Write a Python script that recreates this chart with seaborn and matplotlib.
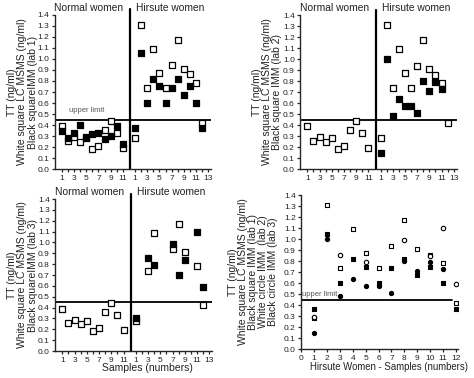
import numpy as np
import pandas as pd
import matplotlib
matplotlib.use("Agg")
import matplotlib.pyplot as plt
import seaborn as sns

# ---------------- data ----------------
normal_samples = list(range(1, 12))
normal_lcmsms = [0.39, 0.26, 0.29, 0.25, 0.28, 0.18, 0.21, 0.36, 0.44, 0.33, 0.19]
normal_lab1 = [0.35, 0.28, 0.33, 0.40, 0.29, 0.32, 0.33, 0.27, 0.30, 0.39, 0.23]

hirsute_samples = list(range(1, 13))
hirsute_lcmsms = [0.28, 1.31, 0.74, 1.09, 0.87, 0.74, 0.94, 1.17, 0.91, 0.86, 0.78, 0.42]
hirsute_lab1 = [0.37, 1.05, 0.60, 0.82, 0.75, 0.60, 0.74, 0.82, 0.67, 0.75, 0.60, 0.37]
hirsute_lab2_samples = list(range(1, 12))
hirsute_lab2 = [0.15, 1.00, 0.48, 0.64, 0.57, 0.57, 0.51, 0.80, 0.71, 0.79, 0.73]
lab3_samples = [1, 3, 4, 7, 8, 9, 11, 12]
hirsute_lab3 = [0.30, 0.86, 0.79, 0.99, 0.70, 0.84, 1.10, 0.59]
lab3_lcmsms = [0.28, 0.74, 1.09, 0.94, 1.17, 0.91, 0.78, 0.42]
p4_circle_samples = [1, 3, 5, 8, 10, 11, 12]
p4_white_circle = [0.29, 0.86, 0.79, 0.99, 0.85, 1.10, 0.59]

upper_limit = 0.45
yticks = [round(0.1 * i, 1) for i in range(15)]
normal_ticklabels = ["1", "", "3", "", "5", "", "7", "", "9", "", "11"]
hirsute_ticklabels = ["1", "", "3", "", "5", "", "7", "", "9", "", "11", "", "13"]

HIRSUTE_OFFSET = 12   # hirsute sample j is drawn at x = offset + j
DIVIDER = 12.2

# ---------------- style ----------------
sns.set_style("ticks")
plt.rcParams["font.family"] = ["Liberation Sans", "DejaVu Sans"]
plt.rcParams["axes.linewidth"] = 1.0
plt.rcParams["xtick.major.size"] = 2.2
plt.rcParams["ytick.major.size"] = 2.2
plt.rcParams["xtick.major.width"] = 0.9
plt.rcParams["ytick.major.width"] = 0.9
plt.rcParams["xtick.major.pad"] = 2
plt.rcParams["ytick.major.pad"] = 1.5

W, H = 474, 378
fig = plt.figure(figsize=(W / 100, H / 100), dpi=100)


def rect(l, r, t, b):
    return [l / W, 1 - b / H, (r - l) / W, (b - t) / H]


TICK_FS = 6.0
TXT = "#222222"


def pts(ax, x, y, face, marker="s", s=22, lw=0.9):
    df = pd.DataFrame({"x": x, "y": y})
    sns.scatterplot(data=df, x="x", y="y", ax=ax, marker=marker, s=s,
                    color=face, edgecolor="black", linewidth=lw, zorder=3,
                    legend=False)


def split_panel(ax, title_y=1.465):
    ax.set_xlim(-0.2, 25.5)
    ax.set_ylim(0, 1.4)
    sns.despine(ax=ax)
    ticks = normal_samples + [HIRSUTE_OFFSET + j for j in range(1, 14)]
    ax.set_xticks(ticks)
    ax.set_xticklabels(normal_ticklabels + hirsute_ticklabels,
                       fontsize=TICK_FS, color=TXT)
    ax.set_yticks(yticks)
    ax.set_yticklabels([f"{v:.1f}" for v in yticks], fontsize=TICK_FS, color=TXT)
    ax.axvline(DIVIDER, ymin=0, ymax=1.035, color="black", lw=1.6,
               clip_on=False, zorder=2)
    ax.axhline(upper_limit, color="black", lw=1.3, zorder=2)
    ax.text(5.4, title_y, "Normal women", ha="center", va="center",
            fontsize=7.4, color=TXT)
    ax.text(18.8, title_y, "Hirsute women", ha="center", va="center",
            fontsize=7.4, color=TXT)
    ax.set_xlabel("")


def ylab(ax, text, xpx, ypx, fs=7.5):
    ax.set_ylabel(text, fontsize=fs, linespacing=1.02, color=TXT,
                  ha="center", va="center", rotation=90)
    inv = ax.transAxes.inverted()
    xa, ya = inv.transform(fig.transFigure.transform((xpx / W, 1 - ypx / H)))
    ax.yaxis.set_label_coords(xa, ya)


hx = [HIRSUTE_OFFSET + j for j in hirsute_samples]

# ---------------- panel 1 ----------------
ax1 = fig.add_axes(rect(54.5, 211.3, 14.7, 169.3))
pts(ax1, normal_samples, normal_lcmsms, "white")
pts(ax1, normal_samples, normal_lab1, "black")
pts(ax1, hx, hirsute_lcmsms, "white")
pts(ax1, hx, hirsute_lab1, "black")
split_panel(ax1)
ax1.text(2.2, 0.53, "upper limit", fontsize=5.5, color="#555555",
         ha="left", va="center")
ylab(ax1, "TT (ng/ml)\nWhite square LC MSMS (ng/ml)\nBlack squareIMM (lab 1)", 22.5, 92)

# ---------------- panel 2 ----------------
ax2 = fig.add_axes(rect(300, 456.8, 15, 169.3))
pts(ax2, normal_samples, normal_lcmsms, "white")
pts(ax2, hx, hirsute_lcmsms, "white")
pts(ax2, [HIRSUTE_OFFSET + j for j in hirsute_lab2_samples], hirsute_lab2, "black")
split_panel(ax2)
ylab(ax2, "TT (ng/ml)\nWhite square LC MSMS (ng/ml)\nBlack square IMM (lab 2)", 267, 92)

# ---------------- panel 3 ----------------
ax3 = fig.add_axes(rect(55, 212.4, 199, 351))
pts(ax3, normal_samples, normal_lcmsms, "white")
l3x = [HIRSUTE_OFFSET + j for j in lab3_samples]
pts(ax3, l3x, lab3_lcmsms, "white")
pts(ax3, l3x, hirsute_lab3, "black")
split_panel(ax3)
ax3.set_xlabel("Samples (numbers)", fontsize=7.5, color=TXT, labelpad=0)
ax3.xaxis.set_label_coords(0.59, -0.08)
ylab(ax3, "TT (ng/ml)\nWhite square LC MSMS (ng/ml)\nBlack squareIMM (lab 3)", 22.5, 275)

# ---------------- panel 4 ----------------
ax4 = fig.add_axes(rect(301, 458, 195, 349.3))
pts(ax4, hirsute_samples, hirsute_lcmsms, "white", s=12, lw=0.8)
pts(ax4, p4_circle_samples, p4_white_circle, "white", marker="o", s=10, lw=0.8)
pts(ax4, hirsute_samples, hirsute_lab1, "black", s=12, lw=0.8)
pts(ax4, hirsute_lab2_samples, hirsute_lab2, "black", marker="o", s=9, lw=0.8)
ax4.set_xlim(0, 12.15)
ax4.set_ylim(0, 1.4)
sns.despine(ax=ax4)
ax4.set_xticks(range(0, 13))
ax4.set_xticklabels([str(i) for i in range(0, 13)], fontsize=TICK_FS, color=TXT)
ax4.set_yticks(yticks)
ax4.set_yticklabels([f"{v:.1f}" for v in yticks], fontsize=TICK_FS, color=TXT)
ax4.plot([0, 11.65], [upper_limit, upper_limit], color="black", lw=1.3, zorder=2)
ax4.text(0.1, 0.5, "upper limit", fontsize=5.5, color="#555555",
         ha="left", va="center")
ax4.set_xlabel("Hirsute Women - Samples (numbers)", fontsize=6.9, color=TXT,
               labelpad=0)
ax4.xaxis.set_label_coords(0.56, -0.08)
ylab(ax4, "TT (ng/ml)\nWhite square LC MSMS (ng/ml)\nBlack square IMM (lab 1)\n"
          "White circle IMM  (lab 2)\nBlack circle IMM (lab 3)", 253, 272)

fig.savefig("out.png", dpi=100, facecolor="white")
